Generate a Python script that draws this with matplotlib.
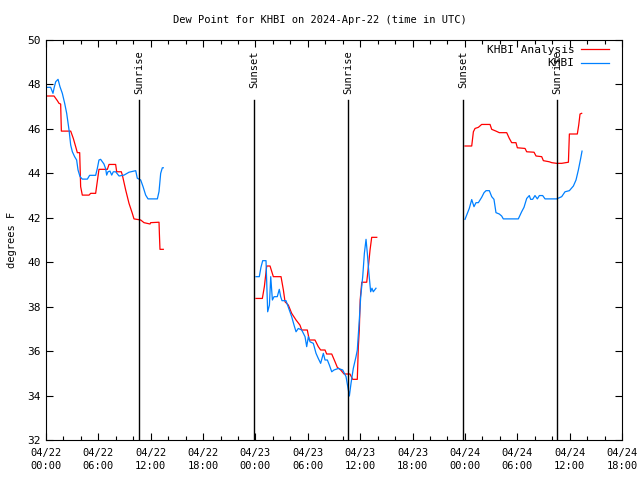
import numpy as np
import matplotlib
matplotlib.use('Agg')
import matplotlib.pyplot as plt

# hours since 2024-04-22 00:00 UTC; None splits the segments
ANALYSIS_T = [0.08, 0.92, 1.30, 1.49, 1.68, 1.76, 2.83, 3.13, 3.40, 3.59, 3.86, 3.97, 4.16, 4.93,
              5.12, 5.69, 5.77, 6.07, 7.03, 7.22, 7.98, 8.10, 8.63, 8.75, 9.13, 9.51, 9.89, 10.08,
              10.85, 11.23, 11.92, 11.99, 12.95, 13.0, 13.06, 13.44, None,
              24.06, 24.79, 25.02, 25.29, 25.67, 26.05, 26.93, 27.2, 27.39, 27.77, 28.15, 28.65,
              29.1, 29.3, 29.94, 30.17, 30.82, 31.2, 31.47, 31.97, 32.16, 32.74, 33.12, 33.38,
              33.77, 34.15, 34.83, 35.14, 35.67, 35.79, 35.9, 36.0, 36.18, 36.75, 36.94, 37.13,
              37.32, 37.9, None,
              48.01, 48.78, 48.97, 49.16, 49.54, 49.92, 50.88, 51.07, 51.56, 51.94, 52.79, 53.09,
              53.36, 53.85, 54.01, 54.89, 55.08, 55.92, 56.15, 56.8, 56.99, 57.67, 57.95, 58.52,
              59.09, 59.86, 59.97, 60.88, 61.04, 61.19, 61.38]
ANALYSIS_F = [47.48, 47.48, 47.27, 47.15, 47.12, 45.9, 45.9, 45.57, 45.2, 44.93, 44.93, 43.4, 43.02, 43.02,
              43.1, 43.1, 43.33, 44.18, 44.18, 44.4, 44.4, 44.07, 44.07, 43.92, 43.25, 42.65, 42.2, 41.95,
              41.9, 41.78, 41.72, 41.78, 41.8, 41.2, 40.58, 40.58, None,
              38.37, 38.37, 38.9, 39.83, 39.83, 39.35, 39.35, 38.75, 38.22, 38.07, 37.7, 37.4,
              37.17, 36.95, 36.95, 36.5, 36.5, 36.2, 36.05, 36.05, 35.87, 35.87, 35.52, 35.27,
              35.15, 34.97, 34.97, 34.73, 34.73, 36.2, 36.95, 38.3, 39.1, 39.1, 39.8, 40.55,
              41.12, 41.12, None,
              45.23, 45.23, 45.87, 46.02, 46.07, 46.2, 46.2, 45.98, 45.9, 45.83, 45.83, 45.57,
              45.38, 45.38, 45.15, 45.12, 44.97, 44.95, 44.78, 44.75, 44.57, 44.52, 44.48, 44.45,
              44.45, 44.5, 45.77, 45.77, 46.17, 46.67, 46.7]

OBS_T = [0.08, 0.53, 0.80, 0.92, 1.11, 1.38, 1.60, 1.87, 2.14, 2.37, 2.64, 2.83, 3.02, 3.28, 3.51,
         3.67, 3.90, 4.16, 4.74, 5.0, 5.69, 5.88, 6.07, 6.26, 6.64, 6.84, 6.95, 7.10, 7.33, 7.53,
         7.71, 7.98, 8.37, 8.94, 9.51, 10.28, 10.46, 10.85, 11.12, 11.42, 11.69, 12.76, 12.95,
         13.14, 13.33, 13.44, None,
         24.06, 24.44, 24.63, 24.83, 25.21, 25.29, 25.4, 25.6, 25.75, 25.94, 26.13, 26.5, 26.73,
         26.89, 27.04, 27.5, 27.77, 28.15, 28.42, 28.65, 28.91, 29.3, 29.68, 29.87, 30.06, 30.25,
         30.63, 30.94, 31.2, 31.47, 31.78, 31.97, 32.24, 32.47, 32.74, 33.0, 33.5, 34.0, 34.38,
         34.57, 34.76, 34.95, 35.21, 35.52, 35.67, 35.9, 36.06, 36.29, 36.48, 36.67, 36.82, 37.0,
         37.2, 37.35, 37.5, 37.81, None,
         48.01, 48.28, 48.5, 48.78, 49.04, 49.27, 49.54, 49.92, 50.19, 50.42, 50.8, 51.07, 51.33,
         51.56, 51.94, 52.21, 52.4, 54.12, 54.5, 54.77, 55.08, 55.38, 55.53, 55.76, 56.03, 56.3,
         56.53, 56.91, 57.18, 58.52, 59.09, 59.47, 59.97, 60.43, 60.73, 61.0, 61.27, 61.42]
OBS_F = [47.87, 47.87, 47.6, 47.83, 48.12, 48.23, 47.9, 47.6, 47.15, 46.7, 45.95, 45.27, 44.97, 44.75, 44.6,
         44.15, 43.85, 43.74, 43.74, 43.91, 43.91, 44.22, 44.6, 44.63, 44.42, 44.2, 43.92, 44.07, 44.1, 43.92,
         44.07, 44.07, 43.88, 43.92, 44.05, 44.12, 43.78, 43.7, 43.4, 43.02, 42.85, 42.85, 43.18,
         44.0, 44.25, 44.25, None,
         39.35, 39.35, 39.77, 40.07, 40.07, 39.05, 37.77, 38.07, 39.35, 38.3, 38.45, 38.45, 38.78,
         38.45, 38.27, 38.27, 37.97, 37.55, 37.17, 36.87, 37.02, 36.95, 36.65, 36.2, 36.65, 36.42,
         36.35, 35.9, 35.67, 35.45, 35.9, 35.6, 35.6, 35.37, 35.07, 35.15, 35.22, 35.15, 34.85,
         34.4, 33.98, 34.55, 35.22, 35.75, 36.05, 37.4, 38.45, 39.35, 40.4, 41.03, 40.4, 39.5,
         38.67, 38.83, 38.67, 38.83, None,
         41.93, 42.2, 42.42, 42.82, 42.5, 42.68, 42.68, 42.92, 43.13, 43.22, 43.22, 42.95, 42.83,
         42.23, 42.17, 42.08, 41.95, 41.95, 42.27, 42.47, 42.87, 43.0, 42.83, 42.83, 43.0, 42.85,
         43.0, 43.0, 42.85, 42.85, 42.95, 43.17, 43.22, 43.43, 43.7, 44.15, 44.68, 45.0]

SUN_T = [10.66, 23.83, 34.6, 47.78, 58.55]
SUN_LABELS = ['Sunrise', 'Sunset', 'Sunrise', 'Sunset', 'Sunrise']

X_TICKS = [0, 6, 12, 18, 24, 30, 36, 42, 48, 54, 60, 66]
X_LABELS = ['04/22\n00:00', '04/22\n06:00', '04/22\n12:00', '04/22\n18:00',
            '04/23\n00:00', '04/23\n06:00', '04/23\n12:00', '04/23\n18:00',
            '04/24\n00:00', '04/24\n06:00', '04/24\n12:00', '04/24\n18:00']


def to_arr(vals):
    return np.array([np.nan if v is None else v for v in vals], dtype=float)


FONT = 'DejaVu Sans Mono'
FS = 7

fig = plt.figure(figsize=(6.4, 4.8), dpi=100)
ax = fig.add_axes([46 / 640, 40 / 480, 576 / 640, 400 / 480])

ax.plot(to_arr(ANALYSIS_T), to_arr(ANALYSIS_F), color='#ff0000', lw=0.9, label='KHBI Analysis')
ax.plot(to_arr(OBS_T), to_arr(OBS_F), color='#0080ff', lw=0.9, label='KHBI')

for t, lab in zip(SUN_T, SUN_LABELS):
    ax.plot([t, t], [32, 47.3], color='black', lw=1.0)
    ax.text(t, 49.55, lab, rotation=90, ha='center', va='top',
            fontsize=FS + 0.5, family=FONT)

ax.set_xlim(0, 66)
ax.set_ylim(32, 50)
ax.set_xticks(X_TICKS)
ax.set_xticklabels(X_LABELS, fontsize=FS + 0.5, family=FONT, linespacing=1.3)
ax.set_xticks(np.arange(0, 67, 2), minor=True)
ax.set_yticks(np.arange(32, 51, 2))
ax.set_yticklabels([str(v) for v in range(32, 51, 2)], fontsize=FS + 1, family=FONT)
ax.tick_params(which='both', direction='in', top=True, right=True)
ax.tick_params(which='major', length=5, width=0.8)
ax.tick_params(which='minor', length=3, width=0.8)
ax.tick_params(axis='x', pad=6)

ax.set_ylabel('degrees F', fontsize=FS + 0.5, family=FONT, labelpad=8)
fig.text(0.5, 1 - 20 / 480, 'Dew Point for KHBI on 2024-Apr-22 (time in UTC)',
         ha='center', va='center', fontsize=FS + 0.5, family=FONT)

leg = ax.legend(loc='upper right', bbox_to_anchor=((610 - 46) / 576, 1.0 - 4 / 400), frameon=False,
                markerfirst=False, prop={'family': FONT, 'size': FS + 1}, handlelength=2.5,
                handletextpad=0.6, labelspacing=0.3, borderaxespad=0.0, borderpad=0.1)

fig.savefig('out.png', dpi=100)
